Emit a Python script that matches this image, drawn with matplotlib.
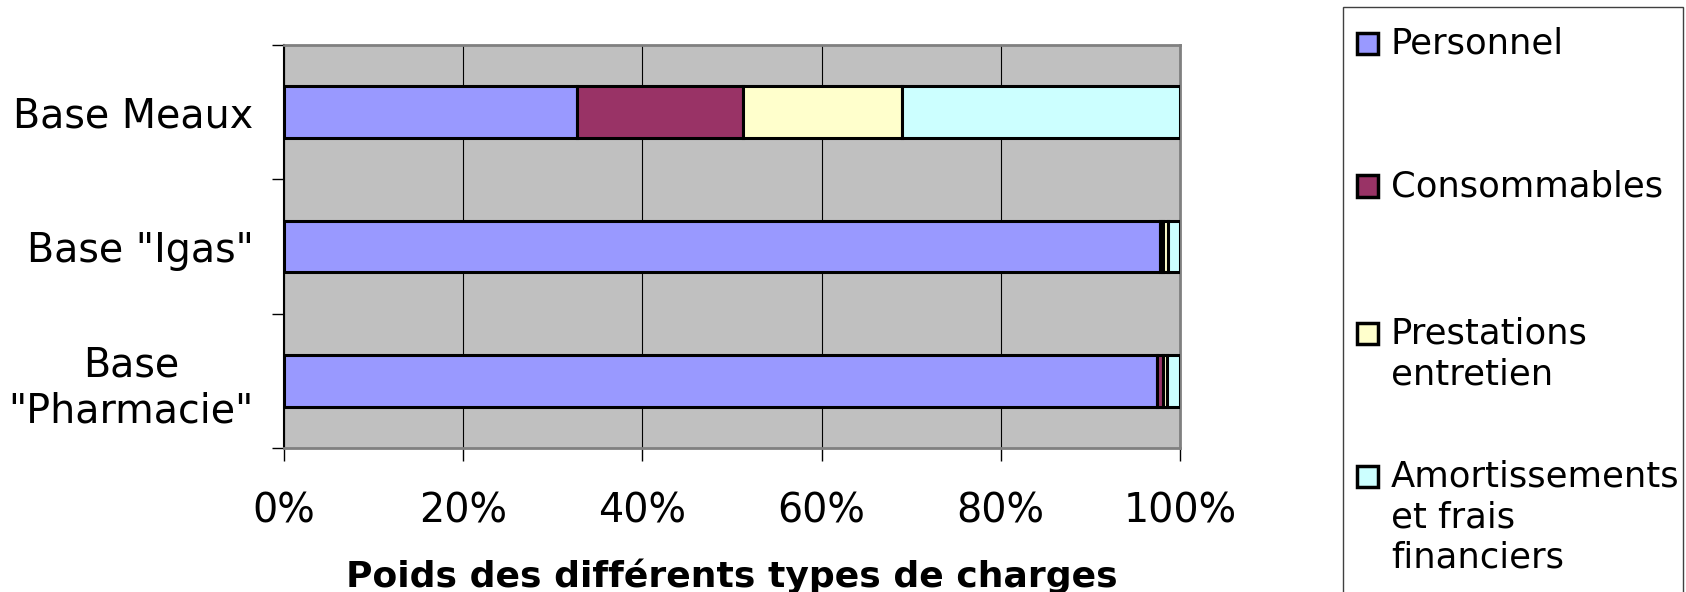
import matplotlib
matplotlib.use("Agg")
import matplotlib.pyplot as plt
from matplotlib.patches import Rectangle
import numpy as np

# data (shares in %)
categories = ['Base Meaux', 'Base "Igas"', 'Base\n"Pharmacie"']
series = ['Personnel', 'Consommables', 'Prestations\nentretien',
          'Amortissements\net frais\nfinanciers']
personnel = [32.7, 97.8, 97.4]
consommables = [18.5, 0.3, 0.7]
prestations = [17.8, 0.6, 0.4]
amortissements = [31.0, 1.3, 1.5]
colors = ['#9999FF', '#993366', '#FFFFCC', '#CCFFFF']
xticks = [0, 20, 40, 60, 80, 100]

plt.rcParams['font.family'] = ['DejaVu Sans']

fig = plt.figure(figsize=(16.86, 5.92), dpi=100)
ax = fig.add_axes([284/1686, 1-448/592, (1180-284)/1686, (448-45)/592])
ax.set_facecolor('#C0C0C0')

y = np.arange(len(categories))
left = np.zeros(len(categories))
for vals, c in zip([personnel, consommables, prestations, amortissements], colors):
    ax.barh(y, vals, left=left, height=0.385, color=c, edgecolor='black',
            linewidth=2.2, zorder=3)
    left = left + np.array(vals)

ax.set_xlim(0, 100)
ax.set_ylim(2.5, -0.5)

#gridlines + ticks
ax.set_xticks(xticks)
ax.set_xticklabels([f"{t}%" for t in xticks], fontsize=28.5)
ax.tick_params(axis='x', length=9.4, width=1, pad=22, color='black')
ax.grid(axis='x', color='black', linewidth=0.8, zorder=1)

ax.set_yticks(y)
ax.set_yticklabels(categories, fontsize=28.5, multialignment='center')
ax.set_yticks([-0.5, 0.5, 1.5, 2.5], minor=True)
ax.tick_params(axis='y', which='major', length=0, pad=22)
ax.tick_params(axis='y', which='minor', length=8.6, width=1, color='black')

ax.set_xlabel("Poids des différents types de charges", fontsize=26,
              fontweight='bold', labelpad=19)

for s in ['top', 'right', 'bottom']:
    ax.spines[s].set_color('#808080')
    ax.spines[s].set_linewidth(2)
ax.spines['left'].set_color('black')
ax.spines['left'].set_linewidth(1.5)

#legend drawn by hand so the marker sits on first line
fig.add_artist(Rectangle((1343/1686, -0.05), (1683-1343)/1686, 1.05-7/592,
                         transform=fig.transFigure, facecolor='white',
                         edgecolor='#404040', linewidth=1))
first_line_y = [43, 186, 333, 476]
for lab, c, yc in zip(series, colors, first_line_y):
    fig.add_artist(Rectangle((1357/1686, 1-(yc+10.5)/592), 21/1686, 21/592,
                             transform=fig.transFigure, facecolor=c,
                             edgecolor='black', linewidth=2.5))
    fig.text(1391/1686, 1-(yc-16.5)/592, lab, fontsize=25.5, va='top',
             ha='left', linespacing=1.25)

fig.savefig("out.png", dpi=100)
